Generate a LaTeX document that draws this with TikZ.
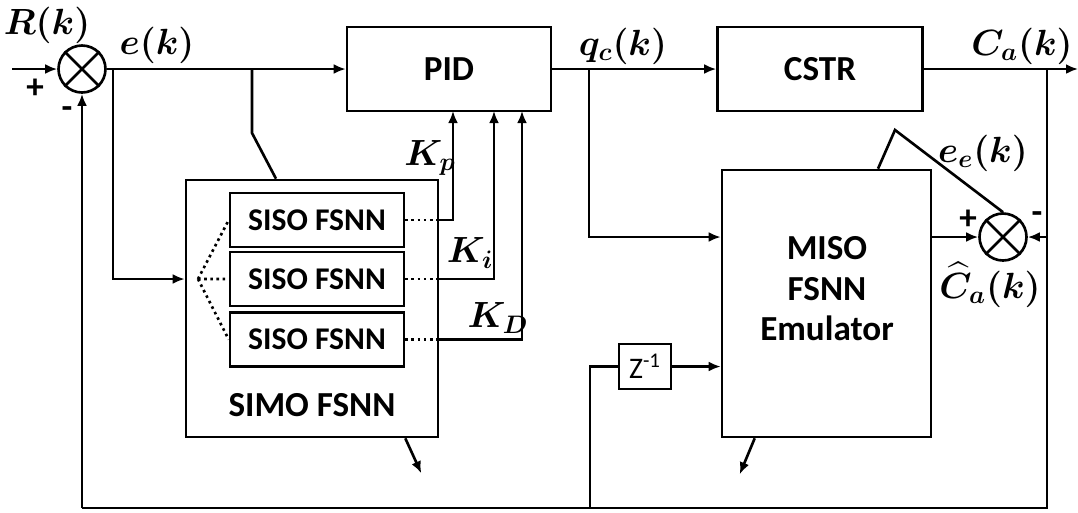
\documentclass[tikz,border=0pt]{standalone}
\usepackage{amsmath,bm}
\usepackage{fontspec}
\setmainfont{Carlito}
\usetikzlibrary{arrows.meta,calc}

\begin{document}
\begin{tikzpicture}[x=0.02cm, y=-0.02cm,
  line width=1.5pt,
  block/.style={draw, inner sep=0pt, font=\fontsize{20}{24}\selectfont\bfseries},
  txt/.style={inner sep=0pt, font=\fontsize{20}{24}\selectfont\bfseries},
  sub/.style={draw, minimum width=3.48cm, minimum height=1.08cm, inner sep=0pt, font=\fontsize{18}{22}\selectfont\bfseries},
  sum/.style={draw, circle, minimum size=0.94cm, inner sep=0pt},
  sig/.style={inner sep=1pt, font=\fontsize{21}{25}\selectfont},
  sign/.style={inner sep=0pt, font=\fontsize{20}{24}\selectfont\bfseries},
  arrow/.style={-{Latex[length=2.4mm,width=2mm]}},
  dots/.style={dotted}
]
\useasboundingbox (0,0) rectangle (1078,512);

% blocks
\node[sum] (s1) at (82,69) {};
\node[block, minimum width=4.08cm, minimum height=1.68cm] (pid) at (449,69) {PID};
\node[block, minimum width=4.1cm, minimum height=1.68cm] (cstr) at (820,69) {CSTR};
\node[block, minimum width=5.04cm, minimum height=5.14cm] (simo) at (312,308.5) {};
\node[txt] (simotxt) at (312,405) {SIMO FSNN};
\node[sub] (siso1) at (317,220) {SISO FSNN};
\node[sub] (siso2) at (317,279) {SISO FSNN};
\node[sub] (siso3) at (317,339.5) {SISO FSNN};
\node[block, minimum width=4.18cm, minimum height=5.34cm] (miso) at (826.5,303.5) {};
\node[txt, align=center, font=\fontsize{20}{23}\selectfont\bfseries] (misotxt) at (827,289) {MISO\\FSNN\\Emulator};
\node[draw, minimum width=1.04cm, minimum height=0.9cm, inner sep=0pt, font=\fontsize{17}{20}\selectfont] (z) at (645,366.5) {Z\textsuperscript{-1}};
\node[sum] (s2) at (1003,237) {};
\foreach \s in {s1,s2}
  \draw (\s.north west) -- (\s.south east) (\s.north east) -- (\s.south west);

% junctions
\coordinate (in) at (12,69);
\coordinate (b1) at (113,69);
\coordinate (b2) at (252,69);
\coordinate (sw) at (252,133);
\coordinate (fan) at (198,279);
\coordinate (kp) at (453,111);
\coordinate (ki) at (494,111);
\coordinate (kd) at (522,111);
\coordinate (b3) at (589,69);
\coordinate (b4) at (1047,69);
\coordinate (out) at (1078,69);
\coordinate (c1) at (82,508);
\coordinate (c2) at (590,508);
\coordinate (c4) at (1047,508);
\coordinate (ee) at (895,130);

% main loop
\draw[arrow] (in) -- (s1.west);
\draw[arrow] (s1.east) -- (s1.east -| pid.west);
\draw[arrow] (b1) |- (siso2 -| simo.west);
\draw (b2) -- (sw) -- (simo.north -| 276,0);
\draw[arrow] (pid.east) -- (cstr.west);
\draw[arrow] (cstr.east) -- (out);
\draw[arrow] (b3) |- (s2 -| miso.west);
\draw[arrow] (miso.east |- s2) -- (s2.west);
\draw (b4) -- (c4) -- (c1);
\draw[arrow] (c1) -- (s1.south);
\draw[arrow] (b4 |- s2) -- (s2.east);
\draw (c2) |- (z.west);
\draw[arrow] (z.east) -- (z.east -| miso.west);
\draw (s2.north) -- (ee) -- (miso.north -| 878,0);

% gains
\draw[dots] (fan) -- (siso1.west) (fan) -- (siso2.west) (fan) -- (siso3.west);
\draw[dots] (siso1.east) -- (siso1.east -| simo.east);
\draw[dots] (siso2.east) -- (siso2.east -| simo.east);
\draw[dots] (siso3.east) -- (siso3.east -| simo.east);
\draw[arrow] (siso1.east -| simo.east) -| (kp);
\draw[arrow] (siso2.east -| simo.east) -| (ki);
\draw[arrow] (siso3.east -| simo.east) -| (kd);

% learning arrows
\draw[arrow] ($(simo.south east)+(-34,0)$) -- ++(16,35);
\draw[arrow] ($(miso.south west)+(34,0)$) -- ++(-15,36);

% labels
\node[sig] (lr) at (47,25) {$\bm{R(k)}$};
\node[sig] (le) at (157,45) {$\bm{e(k)}$};
\node[sig] (lkp) at (430,158) {$\bm{K_p}$};
\node[sig] (lki) at (470,253) {$\bm{K_i}$};
\node[sig] (lkd) at (498,318) {$\bm{K_D}$};
\node[sig] (lq) at (623,46) {$\bm{q_c(k)}$};
\node[sig] (lca) at (1022,46) {$\bm{C_a(k)}$};
\node[sig] (lee) at (983,153) {$\bm{e_e(k)}$};
\node[sig, font=\fontsize{20}{24}\selectfont] (lch) at (990,285) {$\bm{\widehat{C}_a(k)}$};
\node[sign] (p1) at (35,89) {+};
\node[sign] (m1) at (67,113) {-};
\node[sign] (p2) at (968,220) {+};
\node[sign] (m2) at (1037,218) {-};
\end{tikzpicture}
\end{document}
